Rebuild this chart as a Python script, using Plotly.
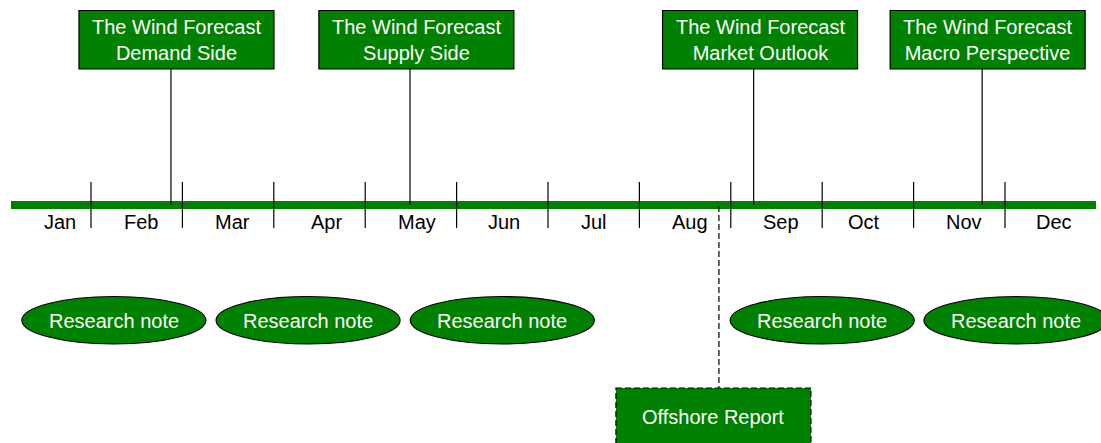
import plotly.graph_objects as go

# ---------------- data ----------------
months = ["Jan", "Feb", "Mar", "Apr", "May", "Jun",
          "Jul", "Aug", "Sep", "Oct", "Nov", "Dec"]

# flagship publications (position in months from start of Jan)
pub_titles = ["The Wind Forecast<br>Demand Side",
              "The Wind Forecast<br>Supply Side",
              "The Wind Forecast<br>Market Outlook",
              "The Wind Forecast<br>Macro Perspective"]
pub_dates = [1.875, 4.49, 8.25, 10.75]

offshore_title = "Offshore Report"
offshore_date = 7.87

note_label = "Research note"
note_dates = [1.25, 3.375, 5.5, 9.0, 11.12]

# ---------------- layout helpers ----------------
PXM = 91.4                     # pixels per month
W, H = 1101, 443
def px(p):                     # pixel width -> months
    return p / PXM

month_label_pos = [0.66, 1.55, 2.55, 3.58, 4.57, 5.52,
                   6.50, 7.55, 8.55, 9.46, 10.55, 11.54]
pub_box_shift = [0.06, 0.07, 0.07, 0.06]
offshore_box_shift = -0.06

GREEN = "#008000"
FONT = "Liberation Sans, Arial, Helvetica, sans-serif"
FS = 20

shapes = []
annotations = []

# timeline bar
shapes.append(dict(type="rect", xref="x", yref="y", x0=px(11.4), x1=px(1096.4),
                   y0=201, y1=209, fillcolor=GREEN, line=dict(width=0), layer="below"))
# month dividers
for m in range(1, 12):
    shapes.append(dict(type="line", xref="x", yref="y", x0=m, x1=m, y0=182, y1=228,
                       line=dict(color="black", width=1.2)))
# month labels
for name, pos in zip(months, month_label_pos):
    annotations.append(dict(x=pos, y=222, xref="x", yref="y", text=name, showarrow=False,
                            font=dict(family=FONT, size=FS, color="black"),
                            xanchor="center", yanchor="middle"))

# publication boxes
BW = px(195)
for title, d, s in zip(pub_titles, pub_dates, pub_box_shift):
    shapes.append(dict(type="line", xref="x", yref="y", x0=d, x1=d, y0=69, y1=205,
                       line=dict(color="black", width=1.2)))
    c = d + s
    shapes.append(dict(type="rect", xref="x", yref="y", x0=c - BW / 2, x1=c + BW / 2,
                       y0=10.5, y1=69, fillcolor=GREEN, line=dict(color="black", width=1.2)))
    annotations.append(dict(x=c, y=40, xref="x", yref="y", text=title, showarrow=False,
                            font=dict(family=FONT, size=FS, color="white"),
                            xanchor="center", yanchor="middle"))

# offshore report (dashed)
shapes.append(dict(type="line", xref="x", yref="y", x0=offshore_date, x1=offshore_date,
                   y0=206, y1=388, line=dict(color="black", width=1.2, dash="6px,3px")))
oc = offshore_date + offshore_box_shift
shapes.append(dict(type="rect", xref="x", yref="y", x0=oc - BW / 2, x1=oc + BW / 2,
                   y0=388, y1=446, fillcolor=GREEN,
                   line=dict(color="black", width=1.2, dash="6px,3px")))
annotations.append(dict(x=oc, y=417, xref="x", yref="y", text=offshore_title, showarrow=False,
                        font=dict(family=FONT, size=FS, color="white"),
                        xanchor="center", yanchor="middle"))

# research notes
EW = px(184)
for d in note_dates:
    shapes.append(dict(type="circle", xref="x", yref="y", x0=d - EW / 2, x1=d + EW / 2,
                       y0=296.5, y1=344, fillcolor=GREEN, line=dict(color="black", width=1.2)))
    annotations.append(dict(x=d, y=321, xref="x", yref="y", text=note_label, showarrow=False,
                            font=dict(family=FONT, size=FS, color="white"),
                            xanchor="center", yanchor="middle"))

fig = go.Figure()
fig.add_trace(go.Scatter(x=[None], y=[None], showlegend=False, hoverinfo="skip"))
fig.update_layout(
    width=W, height=H,
    margin=dict(l=0, r=0, t=0, b=0),
    paper_bgcolor="white", plot_bgcolor="white",
    showlegend=False,
    shapes=shapes, annotations=annotations,
    xaxis=dict(range=[px(0.4), px(W + 0.4)], visible=False, fixedrange=True),
    yaxis=dict(range=[H, 0], visible=False, fixedrange=True),
)
fig.write_html("out.html", config={"displayModeBar": False},
               post_script="document.body.style.margin='0';document.body.style.overflow='hidden';")
